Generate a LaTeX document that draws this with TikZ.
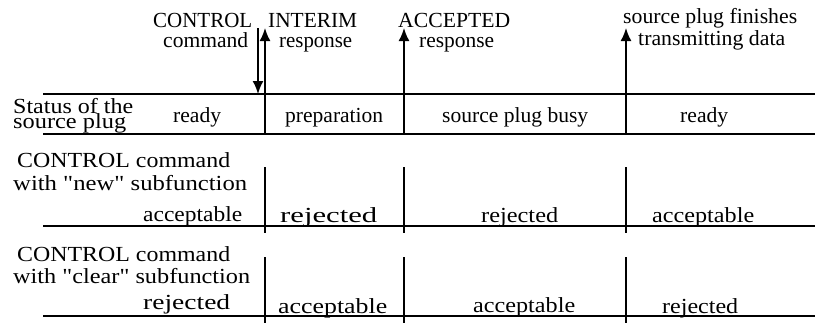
\documentclass[tikz,border=0pt]{standalone}
\usepackage{fontspec}
\setmainfont{Liberation Serif}
\usetikzlibrary{arrows.meta}

% \lab{name}{left}{right}{baseline}{text}: text stretched horizontally to span left..right
\newcommand\lab[5]{\node[lbl] (#1) at (#2,#4) {\resizebox{\dimexpr #3bp-#2bp\relax}{\height}{#5}};}

\begin{document}
\begin{tikzpicture}[x=1bp,y=-1bp,
  lbl/.style={anchor=base west, inner sep=0pt, font=\fontsize{21.5bp}{24bp}\selectfont},
  rule/.style={line width=1.7bp},
  sig/.style={line width=1.7bp, -{Latex[length=13bp,width=11bp]}}]
\useasboundingbox (0,0) rectangle (815,323);

% event markers above the status row
\coordinate (cmdA) at (258,28);  \coordinate (cmdB) at (258,94);
\coordinate (intA) at (265,134); \coordinate (intB) at (265,28);
\coordinate (accA) at (404,134); \coordinate (accB) at (404,28);
\coordinate (finA) at (626,134); \coordinate (finB) at (626,28);
\draw[sig] (cmdA) -- (cmdB);
\draw[sig] (intA) -- (intB);
\draw[sig] (accA) -- (accB);
\draw[sig] (finA) -- (finB);

% horizontal rules
\coordinate (r1l) at (43,94);  \coordinate (r1r) at (815,94);
\coordinate (r2l) at (43,134); \coordinate (r2r) at (815,134);
\coordinate (r3l) at (43,226); \coordinate (r3r) at (815,226);
\coordinate (r4l) at (43,316); \coordinate (r4r) at (815,316);
\draw[rule] (r1l) -- (r1r);
\draw[rule] (r2l) -- (r2r);
\draw[rule] (r3l) -- (r3r);
\draw[rule] (r4l) -- (r4r);

% column separators of the two command rows
\foreach \cx in {265,404,626}{
  \draw[rule] (\cx,167) -- (\cx,233);
  \draw[rule] (\cx,257) -- (\cx,323);
}

% event labels
\lab{t1}{153}{252}{27}{CONTROL}
\lab{t2}{163}{248}{47}{command}
\lab{t3}{268}{357}{27}{INTERIM}
\lab{t4}{279}{352}{47}{response}
\lab{t5}{398}{510}{27}{ACCEPTED}
\lab{t6}{419}{494}{47}{response}
\lab{t7}{623}{797}{23}{source plug finishes}
\lab{t8}{638}{785}{45}{transmitting data}

% status of the source plug
\lab{s1}{13}{133}{113}{Status of the}
\lab{s2}{13}{126}{128}{source plug}
\lab{s3}{173}{221}{122}{ready}
\lab{s4}{285}{383}{122}{preparation}
\lab{s5}{442}{588}{122}{source plug busy}
\lab{s6}{680}{728}{122}{ready}

% CONTROL command, "new" subfunction
\lab{n1}{17}{230}{167}{CONTROL command}
\lab{n2}{13}{247}{190}{with \textquotedbl new\textquotedbl{} subfunction}
\lab{n3}{143}{242}{221}{acceptable}
\lab{n4}{280}{377}{222}{rejected}
\lab{n5}{481}{558}{222}{rejected}
\lab{n6}{652}{754}{222}{acceptable}

% CONTROL command, "clear" subfunction
\lab{c1}{17}{230}{261}{CONTROL command}
\lab{c2}{13}{250}{283}{with \textquotedbl clear\textquotedbl{} subfunction}
\lab{c3}{143}{230}{309}{rejected}
\lab{c4}{278}{387}{313}{acceptable}
\lab{c5}{473}{575}{312}{acceptable}
\lab{c6}{662}{738}{313}{rejected}
\end{tikzpicture}
\end{document}
